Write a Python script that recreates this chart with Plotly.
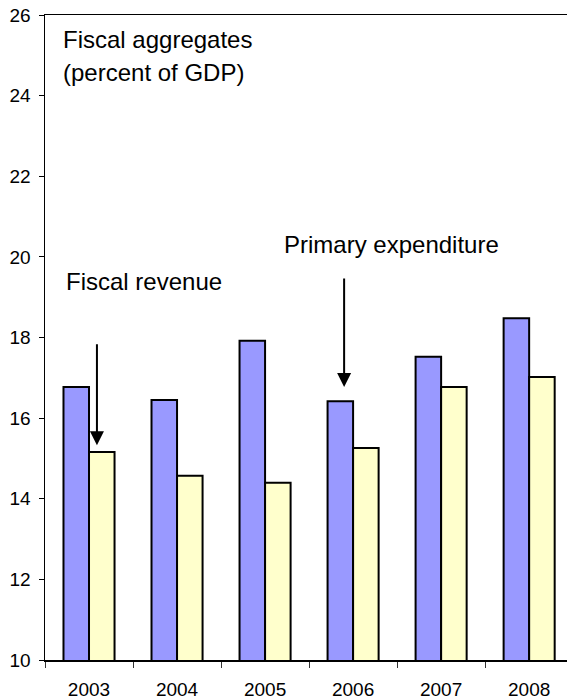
import plotly.graph_objects as go

years = ["2003", "2004", "2005", "2006", "2007", "2008"]
primary_expenditure = [16.77, 16.45, 17.92, 16.42, 17.52, 18.48]
fiscal_revenue = [15.16, 14.57, 14.40, 15.26, 16.77, 17.02]
y_ticks = [10, 12, 14, 16, 18, 20, 22, 24, 26]

FONT = "Liberation Sans, Arial, sans-serif"

fig = go.Figure()
fig.add_trace(go.Bar(
    x=years, y=primary_expenditure, name="Primary expenditure",
    marker=dict(color="#9999FF", line=dict(color="#000000", width=2)),
))
fig.add_trace(go.Bar(
    x=years, y=fiscal_revenue, name="Fiscal revenue",
    marker=dict(color="#FFFFCC", line=dict(color="#000000", width=2)),
))

fig.update_layout(
    width=567, height=700,
    margin=dict(l=45, r=0, t=15, b=40),
    paper_bgcolor="white", plot_bgcolor="white",
    barmode="group", bargap=0.42, bargroupgap=0,
    showlegend=False,
    font=dict(family=FONT, size=19, color="#000000"),
)
fig.update_xaxes(
    type="category", range=[-0.5, 5.43],
    showline=True, linecolor="#000000", linewidth=1.5, mirror=True,
    ticks="outside", ticklen=6, tickwidth=1, tickcolor="#333333",
    tickson="boundaries", showgrid=False, zeroline=False,
    tickfont=dict(family=FONT, size=19), ticklabelstandoff=12,
)
fig.update_yaxes(
    range=[10, 26], tickvals=y_ticks,
    showline=True, linecolor="#000000", linewidth=1.5,
    ticks="outside", ticklen=5, tickwidth=1, tickcolor="#000000",
    showgrid=False, zeroline=False,
    tickfont=dict(family=FONT, size=19), ticklabelstandoff=4,
)

ann_font = dict(family=FONT, size=24, color="#000000")
texts = [
    ("Fiscal aggregates", -0.318, 25.38),
    ("(percent of GDP)", -0.318, 24.57),
    ("Fiscal revenue", -0.284, 19.38),
    ("Primary expenditure", 2.193, 20.3),
]
for t, xx, yy in texts:
    fig.add_annotation(text=t, x=xx, y=yy, xref="x", yref="y",
                       xanchor="left", yanchor="middle", showarrow=False,
                       font=ann_font)

arrows = [
    (0.09, 15.33, 17.87),
    (2.898, 16.77, 19.5),
]
for xx, y_tip, y_start in arrows:
    fig.add_annotation(text="", x=xx, y=y_tip, ax=xx, ay=y_start,
                       xref="x", yref="y", axref="x", ayref="y",
                       showarrow=True, arrowhead=2, arrowsize=1.4,
                       arrowwidth=2, arrowcolor="#000000", standoff=0)

fig.write_html("out.html",
               config={"displayModeBar": False, "staticPlot": True},
               post_script="document.body.style.margin='0';document.body.style.overflow='hidden';")
